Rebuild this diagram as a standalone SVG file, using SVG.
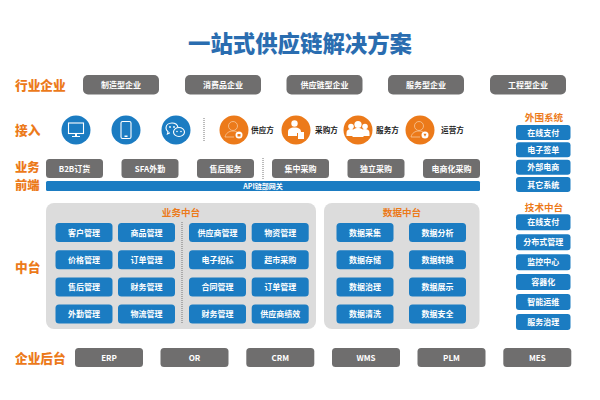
<svg xmlns="http://www.w3.org/2000/svg" width="600" height="400" viewBox="0 0 600 400">
<style>
text{font-family:"Noto Sans CJK SC","Noto Sans",sans-serif;font-weight:700;text-anchor:middle}
.g{fill:#6f6e6e}.b{fill:#1b7cc2}.o{fill:#ec7a1a}.p{fill:#dcdcdc}
.t{fill:#fff;font-size:8px}
.l{fill:#ec7a1a;font-size:12.7px;text-anchor:start;font-weight:900}
.h{fill:#ec7a1a;font-size:9.6px}
.k{fill:#222;font-size:7.6px}
.d{stroke:#777;stroke-width:1;stroke-dasharray:1 1;fill:none}
.i{fill:#fff}.s{fill:none;stroke:#fff;stroke-width:1.1}.f{fill:none;stroke:#f6c89c;stroke-width:.8}
</style>
<rect width="600" height="400" fill="#fff"/>
<text id="title" x="300" y="52" font-size="22.4" fill="#2a6db0" style="font-weight:900">一站式供应链解决方案</text>

<g id="labels">
<text class="l" x="15" y="90">行业企业</text>
<text class="l" x="15" y="135">接入</text>
<text class="l" x="15" y="171.500" style="font-size:12.3px">业务</text>
<text class="l" x="15" y="189.500" style="font-size:12.3px">前端</text>
<text class="l" x="15" y="272">中台</text>
<text class="l" x="15" y="363">企业后台</text>
</g>

<g id="industry">
<g id="ind1"><rect class="g" x="83" y="75" width="76" height="19.500" rx="5"/><text class="t" x="121" y="88">制造型企业</text></g>
<g id="ind2"><rect class="g" x="185" y="75" width="76" height="19.500" rx="5"/><text class="t" x="223" y="88">消费品企业</text></g>
<g id="ind3"><rect class="g" x="286.500" y="75" width="76" height="19.500" rx="5"/><text class="t" x="324.500" y="88">供应链型企业</text></g>
<g id="ind4"><rect class="g" x="388" y="75" width="76" height="19.500" rx="5"/><text class="t" x="426" y="88">服务型企业</text></g>
<g id="ind5"><rect class="g" x="490" y="75" width="76" height="19.500" rx="5"/><text class="t" x="528" y="88">工程型企业</text></g>
</g>

<g id="access">
<g id="pc"><circle class="b" cx="76" cy="130" r="14.500"/><rect class="s" x="68.500" y="123" width="15" height="10.500"/><path class="i" d="M75 134h2v2h3v1h-8v-1h3z"/></g>
<g id="phone"><circle class="b" cx="126" cy="130" r="14.500"/><rect class="s" x="121" y="121.500" width="10" height="17" rx="1.500"/><rect class="i" x="124.500" y="135.500" width="3" height="1.500"/></g>
<g id="wechat"><circle class="b" cx="176" cy="130" r="14.500"/><path class="s" d="M172 123c-3.500 0-6 2.200-6 5 0 1.600.8 2.900 2 3.800l-.6 2.200 2.500-1.300"/><path class="s" d="M172 123c3 0 5.300 1.700 5.900 4"/><ellipse class="s" cx="179" cy="132" rx="5.500" ry="4.500"/><circle class="i" cx="170" cy="127" r=".9"/><circle class="i" cx="174" cy="127" r=".9"/><circle class="i" cx="177" cy="131.500" r=".8"/><circle class="i" cx="181" cy="131.500" r=".8"/></g>

<g id="supplier"><circle class="o" cx="234" cy="130" r="14.500"/><circle class="f" cx="233" cy="126" r="4.500"/><path class="f" d="M225 137c1-4 4-6 8-6 2 0 3 .5 4 1M225 137h9"/><circle class="i" cx="239" cy="135" r="3.500"/><rect class="o" x="237.500" y="134" width="3" height="2.500"/><text class="k" x="262.500" y="133">供应方</text></g>
<g id="buyer"><circle class="o" cx="296" cy="130" r="14.500"/><circle class="i" cx="294.500" cy="123.500" r="3.200"/><path class="i" d="M288 136v-4c0-3 2-4.500 6.500-4.500s6.500 1.500 6.500 4.500v1h-4v3z"/><rect class="i" x="298" y="132" width="6" height="7"/><text class="k" x="326.500" y="133">采购方</text></g>
<g id="service"><circle class="o" cx="358" cy="130" r="14.500"/><g class="i"><circle cx="351" cy="126.500" r="2.800"/><circle cx="365" cy="126.500" r="2.800"/><path d="M346.500 136v-3c0-3 2-4 4.500-4s4.500 1 4.500 4v3zM360.500 136v-3c0-3 2-4 4.500-4s4.500 1 4.500 4v3z"/><circle cx="358" cy="124.500" r="3.600"/><path d="M352.500 137v-4.500c0-3.500 2.500-4.500 5.500-4.500s5.500 1 5.500 4.500v4.500z"/></g><text class="k" x="387.500" y="133">服务方</text></g>
<g id="operator"><circle class="o" cx="420" cy="130" r="14.500"/><circle class="f" cx="419" cy="126" r="4.500"/><path class="f" d="M411 137c1-4 4-6 8-6 2 0 3 .5 4 1M411 137h9"/><circle class="i" cx="425" cy="135" r="3.500"/><path class="o" d="M423.500 133.800h3l-1.500 3z"/><text class="k" x="452.500" y="133">运营方</text></g>
</g>

<g id="frontend">
<g id="fe1"><rect class="g" x="46" y="159" width="57" height="19" rx="3.500"/><text class="t" x="74.500" y="171.800">B2B订货</text></g>
<g id="fe2"><rect class="g" x="121.500" y="159" width="57" height="19" rx="3.500"/><text class="t" x="150" y="171.800">SFA外勤</text></g>
<g id="fe3"><rect class="g" x="197" y="159" width="57" height="19" rx="3.500"/><text class="t" x="225.500" y="171.800">售后服务</text></g>
<g id="fe4"><rect class="g" x="272" y="159" width="57" height="19" rx="3.500"/><text class="t" x="300.500" y="171.800">集中采购</text></g>
<g id="fe5"><rect class="g" x="347.500" y="159" width="57" height="19" rx="3.500"/><text class="t" x="376" y="171.800">独立采购</text></g>
<g id="fe6"><rect class="g" x="423" y="159" width="57" height="19" rx="3.500"/><text class="t" x="451.500" y="171.800">电商化采购</text></g>
<g id="api"><rect class="b" x="46" y="181" width="434" height="10" rx="1.500"/><text class="t" x="263" y="189" style="font-size:7px">API链部网关</text></g>
</g>

<g id="biz">
<rect class="p" x="46" y="203" width="270" height="126" rx="8"/>
<text class="h" x="181" y="216">业务中台</text>
<g id="b1"><rect class="b" x="55.500" y="223" width="57" height="19" rx="3.500"/><text class="t" x="84" y="235.800">客户管理</text></g>
<g id="b2"><rect class="b" x="118" y="223" width="57" height="19" rx="3.500"/><text class="t" x="146.500" y="235.800">商品管理</text></g>
<g id="b3"><rect class="b" x="189" y="223" width="57" height="19" rx="3.500"/><text class="t" x="217.500" y="235.800">供应商管理</text></g>
<g id="b4"><rect class="b" x="251.700" y="223" width="57" height="19" rx="3.500"/><text class="t" x="280.200" y="235.800">物资管理</text></g>
<g id="b5"><rect class="b" x="55.500" y="250.200" width="57" height="19" rx="3.500"/><text class="t" x="84" y="263">价格管理</text></g>
<g id="b6"><rect class="b" x="118" y="250.200" width="57" height="19" rx="3.500"/><text class="t" x="146.500" y="263">订单管理</text></g>
<g id="b7"><rect class="b" x="189" y="250.200" width="57" height="19" rx="3.500"/><text class="t" x="217.500" y="263">电子招标</text></g>
<g id="b8"><rect class="b" x="251.700" y="250.200" width="57" height="19" rx="3.500"/><text class="t" x="280.200" y="263">超市采购</text></g>
<g id="b9"><rect class="b" x="55.500" y="277.400" width="57" height="19" rx="3.500"/><text class="t" x="84" y="290.200">售后管理</text></g>
<g id="b10"><rect class="b" x="118" y="277.400" width="57" height="19" rx="3.500"/><text class="t" x="146.500" y="290.200">财务管理</text></g>
<g id="b11"><rect class="b" x="189" y="277.400" width="57" height="19" rx="3.500"/><text class="t" x="217.500" y="290.200">合同管理</text></g>
<g id="b12"><rect class="b" x="251.700" y="277.400" width="57" height="19" rx="3.500"/><text class="t" x="280.200" y="290.200">订单管理</text></g>
<g id="b13"><rect class="b" x="55.500" y="304.500" width="57" height="19" rx="3.500"/><text class="t" x="84" y="317.300">外勤管理</text></g>
<g id="b14"><rect class="b" x="118" y="304.500" width="57" height="19" rx="3.500"/><text class="t" x="146.500" y="317.300">物流管理</text></g>
<g id="b15"><rect class="b" x="189" y="304.500" width="57" height="19" rx="3.500"/><text class="t" x="217.500" y="317.300">财务管理</text></g>
<g id="b16"><rect class="b" x="251.700" y="304.500" width="57" height="19" rx="3.500"/><text class="t" x="280.200" y="317.300">供应商绩效</text></g>
</g>

<g id="data">
<rect class="p" x="324" y="203" width="155.500" height="126" rx="8"/>
<text class="h" x="402" y="216">数据中台</text>
<g id="d1"><rect class="b" x="336.500" y="223" width="57" height="19" rx="3.500"/><text class="t" x="365" y="235.800">数据采集</text></g>
<g id="d2"><rect class="b" x="409" y="223" width="57" height="19" rx="3.500"/><text class="t" x="437.500" y="235.800">数据分析</text></g>
<g id="d3"><rect class="b" x="336.500" y="250.200" width="57" height="19" rx="3.500"/><text class="t" x="365" y="263">数据存储</text></g>
<g id="d4"><rect class="b" x="409" y="250.200" width="57" height="19" rx="3.500"/><text class="t" x="437.500" y="263">数据转换</text></g>
<g id="d5"><rect class="b" x="336.500" y="277.400" width="57" height="19" rx="3.500"/><text class="t" x="365" y="290.200">数据治理</text></g>
<g id="d6"><rect class="b" x="409" y="277.400" width="57" height="19" rx="3.500"/><text class="t" x="437.500" y="290.200">数据展示</text></g>
<g id="d7"><rect class="b" x="336.500" y="304.500" width="57" height="19" rx="3.500"/><text class="t" x="365" y="317.300">数据清洗</text></g>
<g id="d8"><rect class="b" x="409" y="304.500" width="57" height="19" rx="3.500"/><text class="t" x="437.500" y="317.300">数据安全</text></g>
</g>

<g id="connectors">
<path class="d" d="M204 118V141M263 158V179M182 222V324"/>
</g>

<g id="external">
<text class="h" x="544" y="120.500">外围系统</text>
<g id="e1"><rect class="b" x="516" y="125" width="54.500" height="15" rx="3"/><text class="t" x="543.200" y="135.700">在线支付</text></g>
<g id="e2"><rect class="b" x="516" y="142.300" width="54.500" height="15" rx="3"/><text class="t" x="543.200" y="153">电子签单</text></g>
<g id="e3"><rect class="b" x="516" y="159.700" width="54.500" height="15" rx="3"/><text class="t" x="543.200" y="170.400">外部电商</text></g>
<g id="e4"><rect class="b" x="516" y="177" width="54.500" height="15" rx="3"/><text class="t" x="543.200" y="187.700">其它系统</text></g>
</g>

<g id="tech">
<text class="h" x="544" y="211">技术中台</text>
<g id="t1"><rect class="b" x="516" y="214.300" width="54.500" height="16" rx="3"/><text class="t" x="543.200" y="225.300">在线支付</text></g>
<g id="t2"><rect class="b" x="516" y="234.300" width="54.500" height="16" rx="3"/><text class="t" x="543.200" y="245.300">分布式管理</text></g>
<g id="t3"><rect class="b" x="516" y="254.200" width="54.500" height="16" rx="3"/><text class="t" x="543.200" y="265.200">监控中心</text></g>
<g id="t4"><rect class="b" x="516" y="274.100" width="54.500" height="16" rx="3"/><text class="t" x="543.200" y="285.100">容器化</text></g>
<g id="t5"><rect class="b" x="516" y="294" width="54.500" height="16" rx="3"/><text class="t" x="543.200" y="305">智能运维</text></g>
<g id="t6"><rect class="b" x="516" y="314" width="54.500" height="16" rx="3"/><text class="t" x="543.200" y="325">服务治理</text></g>
</g>

<g id="backend">
<g id="m1"><rect class="g" x="75" y="348" width="68" height="19" rx="3.500"/><text class="t" x="109" y="360.800">ERP</text></g>
<g id="m2"><rect class="g" x="160.500" y="348" width="68" height="19" rx="3.500"/><text class="t" x="194.500" y="360.800">OR</text></g>
<g id="m3"><rect class="g" x="246.300" y="348" width="68" height="19" rx="3.500"/><text class="t" x="280.300" y="360.800">CRM</text></g>
<g id="m4"><rect class="g" x="332" y="348" width="68" height="19" rx="3.500"/><text class="t" x="366" y="360.800">WMS</text></g>
<g id="m5"><rect class="g" x="417.500" y="348" width="68" height="19" rx="3.500"/><text class="t" x="451.500" y="360.800">PLM</text></g>
<g id="m6"><rect class="g" x="503.300" y="348" width="68" height="19" rx="3.500"/><text class="t" x="537.300" y="360.800">MES</text></g>
</g>
</svg>
